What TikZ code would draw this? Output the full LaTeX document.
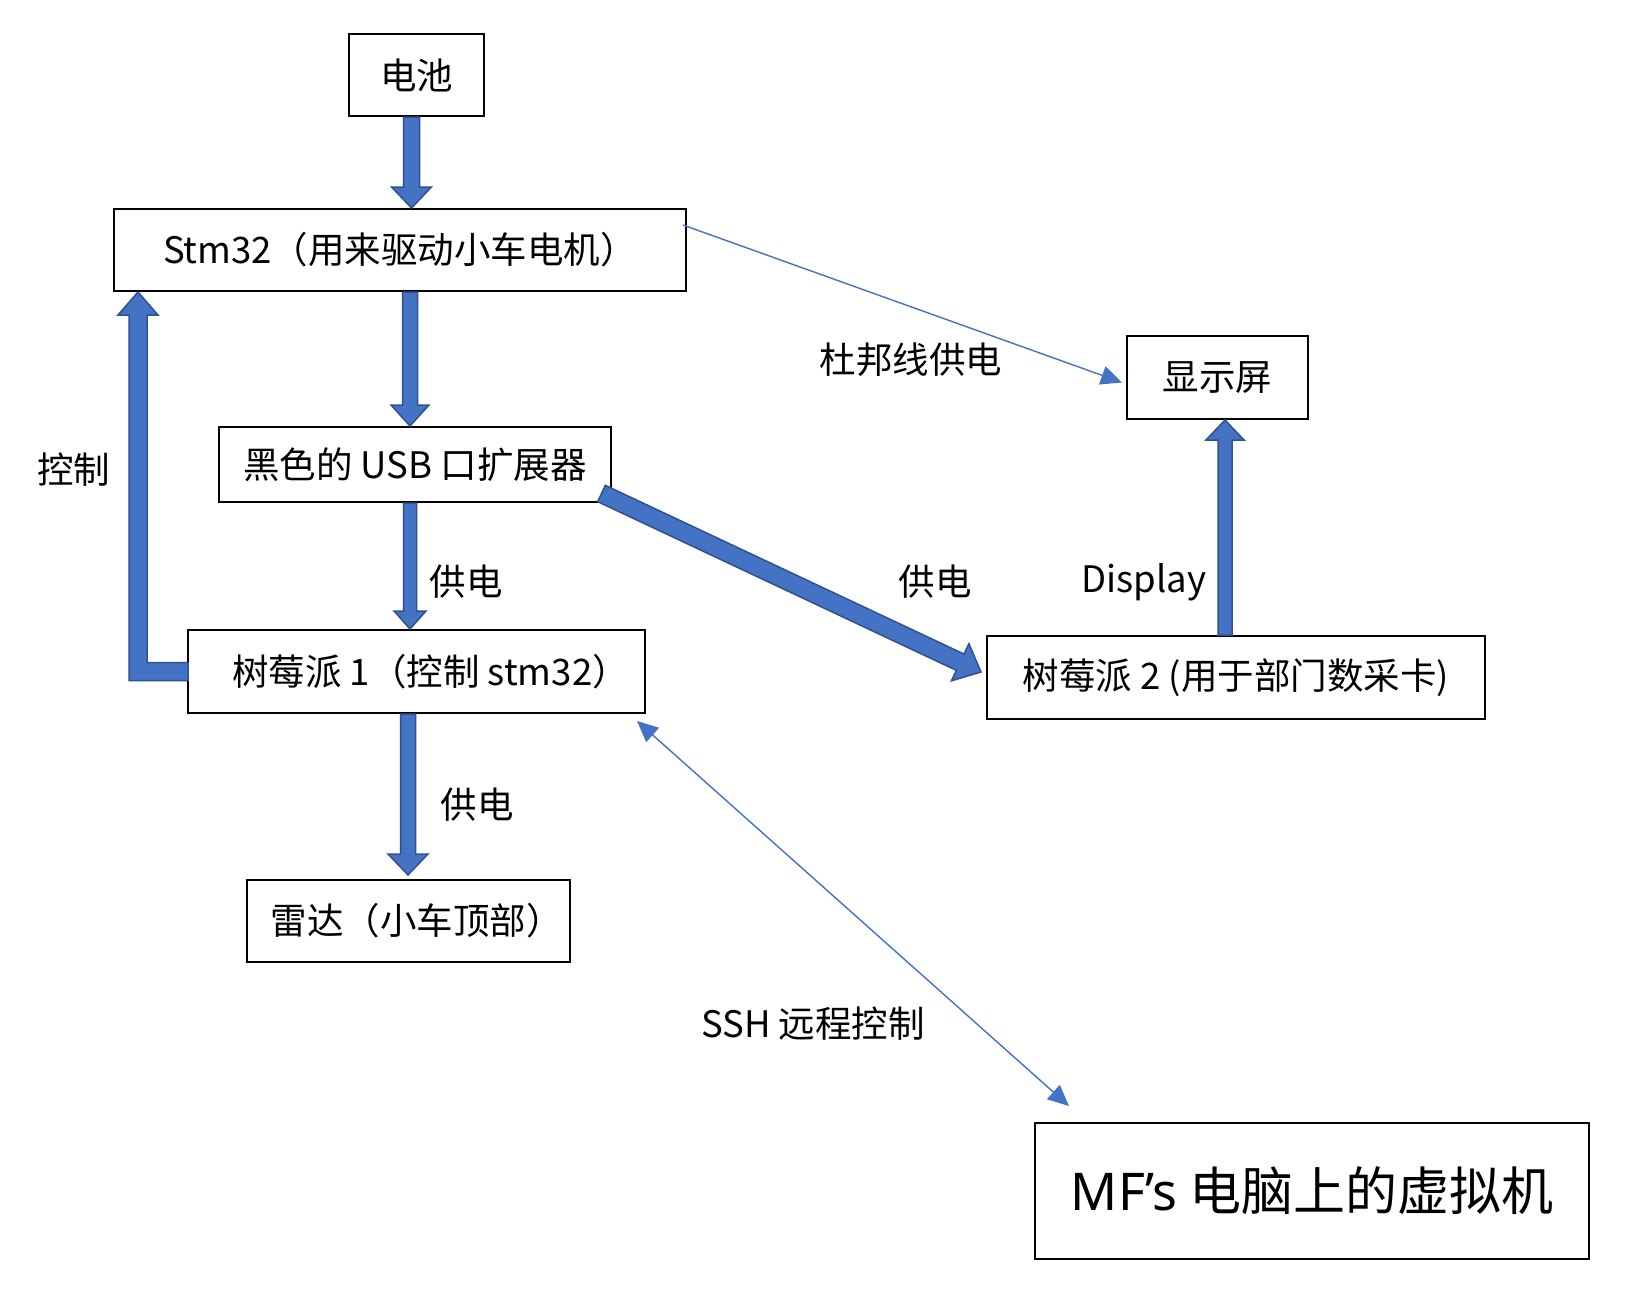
\documentclass[tikz,border=0pt]{standalone}
\usepackage{fontspec}
\setmainfont{Noto Sans CJK SC}
\newfontfamily\latf{Noto Sans}
\usetikzlibrary{calc,arrows.meta}
\definecolor{afill}{HTML}{4472C4}
\definecolor{aline}{HTML}{2F528F}
\tikzset{
  box/.style={draw=black, line width=2pt, inner sep=0pt, font=\fontsize{36.5}{40}\selectfont},
  lbl/.style={inner sep=0pt, font=\fontsize{36.5}{40}\selectfont},
  blk/.style={fill=afill, draw=aline, line width=1.5pt, line join=miter},
  thin/.style={draw=afill, line width=1.4pt, -{Triangle[length=21pt,width=19pt]}},
  thinboth/.style={draw=afill, line width=1.4pt, {Triangle[length=21pt,width=19pt]}-{Triangle[length=21pt,width=19pt]}}
}
\newcommand\blockarr[5]{%
  \coordinate (bn) at ($(#2)!#5!(#1)$);
  \draw[blk] ($(#1)!#3!90:(#2)$) -- ($(bn)!#3!90:(#2)$) -- ($(bn)!#4!90:(#2)$) -- (#2)
    -- ($(bn)!#4!-90:(#2)$) -- ($(bn)!#3!-90:(#2)$) -- ($(#1)!#3!-90:(#2)$) -- cycle;
}
\begin{document}
\begin{tikzpicture}[x=1pt,y=-1pt]
\fill[white] (0,0) rectangle (1650,1312);
\useasboundingbox (0,0) rectangle (1650,1312);

% boxes
\node[box, minimum width=135pt, minimum height=82pt] (bat) at (416.5,75) {电池};
\node[box, minimum width=572pt, minimum height=82pt] (stm) at (400,250) {Stm32（用来驱动小车电机）};
\node[box, minimum width=392pt, minimum height=75pt] (usb) at (415,464.5) {黑色的 USB 口扩展器};
\node[box, minimum width=457pt, minimum height=83pt] (r1) at (416.5,671.5) {\hspace*{28pt}树莓派 1（控制 stm32）};
\node[box, minimum width=323pt, minimum height=82pt] (radar) at (408.5,921) {\hspace*{16pt}雷达（小车顶部）};
\node[box, minimum width=181pt, minimum height=83pt] (disp) at (1217.5,377.5) {显示屏};
\node[box, minimum width=498pt, minimum height=83pt] (r2) at (1236,677.5) {树莓派 2 (用于部门数采卡)};
\node[box, minimum width=554pt, minimum height=136pt, font=\fontsize{52}{58}\selectfont] (mf) at (1312,1191) {{\latf MF’s} 电脑上的虚拟机};

% labels
\node[lbl] (lctrl) at (74,470) {控制};
\node[lbl] (lp1) at (466,582) {供电};
\node[lbl] (lp2) at (935,582) {供电};
\node[lbl] (ldisp) at (1144,582) {Display};
\node[lbl] (ldup) at (911,360) {杜邦线供电};
\node[lbl] (lp3) at (477,805) {供电};
\node[lbl] (lssh) at (813,1024) {SSH 远程控制};

% helper x positions
\coordinate (xa) at (411.5,0);
\coordinate (xb) at (410,0);
\coordinate (xc) at (410,0);
\coordinate (xd) at (408,0);
\coordinate (xe) at (1225,0);
\coordinate (xk) at (138,0);

% block arrows
\coordinate (a1s) at (bat.south -| xa);
\coordinate (a1e) at (stm.north -| xa);
\blockarr{a1s}{a1e}{8pt}{20pt}{21pt}
\coordinate (a2s) at (stm.south -| xb);
\coordinate (a2e) at (usb.north -| xb);
\blockarr{a2s}{a2e}{7.5pt}{19pt}{21pt}
\coordinate (a3s) at (usb.south -| xc);
\coordinate (a3e) at (r1.north -| xc);
\blockarr{a3s}{a3e}{6.5pt}{16pt}{18pt}
\coordinate (a4s) at (r1.south -| xd);
\coordinate (a4e) at ($(radar.north -| xd)+(0,-4)$);
\blockarr{a4s}{a4e}{7.5pt}{20pt}{21pt}
\coordinate (a5s) at ($(usb.south east)+(-10.5,-9.5)$);
\coordinate (a5e) at ($(r2.west)+(-5,-5.5)$);
\blockarr{a5s}{a5e}{9pt}{20.5pt}{23pt}
\coordinate (a6s) at (r2.north -| xe);
\coordinate (a6e) at (disp.south -| xe);
\blockarr{a6s}{a6e}{7pt}{19pt}{20pt}

% elbow arrow (control)
\coordinate (kA) at (r1.west);
\coordinate (kT) at (stm.south -| xk);
\coordinate (kC) at (kA -| xk);
\draw[blk] ($(kA)+(1,-9)$) -- ($(kC)+(9,-9)$) -- ($(kT)+(9,23)$) -- ($(kT)+(20,23)$) -- (kT)
  -- ($(kT)+(-20,23)$) -- ($(kT)+(-9,23)$) -- ($(kC)+(-9,9)$) -- ($(kA)+(1,9)$) -- cycle;

% thin arrows
\coordinate (t1s) at ($(stm.north east)+(-4,17)$);
\coordinate (t1e) at ($(disp.west)+(-4,5)$);
\draw[thin] (t1s) -- (t1e);
\coordinate (t2s) at ($(r1.south east)+(-9,7)$);
\coordinate (t2e) at ($(mf.north west)+(35,-16)$);
\draw[thinboth] (t2s) -- (t2e);
\end{tikzpicture}
\end{document}
